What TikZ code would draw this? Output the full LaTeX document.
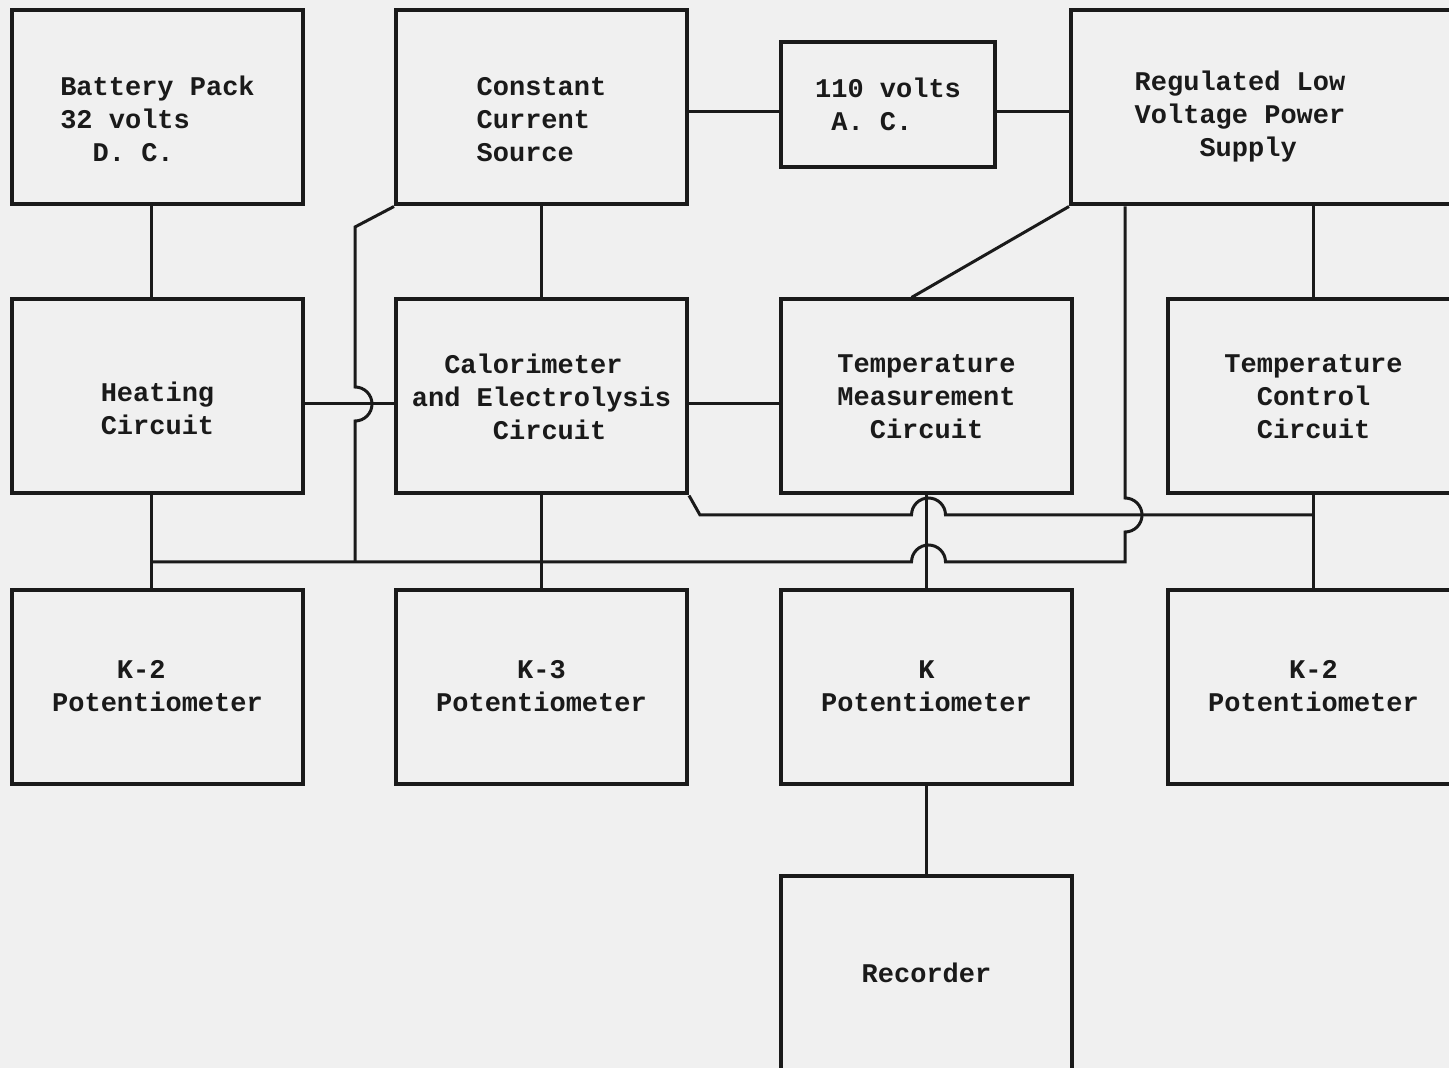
\documentclass[tikz,border=0pt]{standalone}
\usepackage{fontspec}
\setmonofont{Liberation Mono}
\usetikzlibrary{calc}
\definecolor{PaperGray}{HTML}{F0F0F0}
\definecolor{InkBlack}{HTML}{1A1A1A}
% taller first line, pushes typed text down in a box
\newcommand{\typedrop}{\rule{0pt}{21.5pt}}
\tikzset{
    % Node styles - typed boxes with sharp corners
    blockbox/.style={
        rectangle,
        draw=InkBlack,
        line width=2pt,
        minimum width=145.5pt,
        minimum height=97pt,
        align=left,
        text=InkBlack,
        font=\ttfamily\bfseries\fontsize{13.5}{16.5}\selectfont
    },
    smallbox/.style={
        blockbox,
        minimum width=107pt,
        minimum height=62.5pt
    },
    widebox/.style={
        blockbox,
        minimum width=199.5pt
    },
    boxtext/.style={
        align=left,
        text=InkBlack,
        font=\ttfamily\bfseries\fontsize{13.5}{16.5}\selectfont
    },
    % Wire styles
    wire/.style={
        draw=InkBlack,
        line width=1.5pt
    }
}

\begin{document}
\begin{tikzpicture}[x=0.5pt,y=-0.5pt]
    % Paper and page frame
    \useasboundingbox (0,0) rectangle (1449,1068);
    \fill[PaperGray] (0,0) rectangle (1449,1068);
    \clip (0,0) rectangle (1449,1068);

    % Top row - supplies
    \node[blockbox] (batt) at (157.5,107.5) {\typedrop Battery Pack\\32 volts\\~~D. C.};
    \node[blockbox] (ccs) at (541.5,107.5) {\typedrop Constant\\Current\\Source};
    \node[smallbox] (ac) at (888,104.5) {110 volts\\~A. C.};
    \node[widebox] (psu) at (1270.5,107.5) {};
    \node[boxtext] (psulabel) at (1240,117) {Regulated Low\\Voltage Power\\~~~~Supply};

    % Middle row - circuits
    \node[blockbox] (heat) at (157.5,396.5) {\typedrop Heating\\Circuit};
    \node[blockbox] (calor) at (541.5,396.5) {~~Calorimeter\\and Electrolysis\\~~~~~Circuit};
    \node[blockbox] (tmeas) at (926.5,396.5) {Temperature\\Measurement\\~~Circuit};
    \node[blockbox] (tctrl) at (1313.5,396.5) {Temperature\\~~Control\\~~Circuit};

    % Bottom row - potentiometers
    \node[blockbox] (kpotl) at (157.5,686.5) {~~~~K-2\\Potentiometer};
    \node[blockbox] (kthree) at (541.5,686.5) {~~~~~K-3\\Potentiometer};
    \node[blockbox] (kpot) at (926.5,686.5) {~~~~~~K\\Potentiometer};
    \node[blockbox] (kpotr) at (1313.5,686.5) {~~~~~K-2\\Potentiometer};
    \node[blockbox] (rec) at (926.5,972.5) {Recorder};

    % Rows and legs used by the wiring
    \coordinate (toprow) at (0,112);
    \coordinate (midrow) at (0,404);
    \coordinate (ctlrow) at (0,515);
    \coordinate (busW) at (151,562);
    \coordinate (busE) at (1125,562);

    % Straight links
    \draw[wire] (ccs.east |- toprow) -- (ac.west |- toprow);
    \draw[wire] (ac.east |- toprow) -- (psu.west |- toprow);
    \draw[wire] (batt.south -| busW) -- (heat.north -| busW);
    \draw[wire] (ccs.south) -- (calor.north);
    \draw[wire] (heat.east |- midrow) -- (calor.west |- midrow);
    \draw[wire] (calor.east |- midrow) -- (tmeas.west |- midrow);
    \draw[wire] (tctrl.north |- psu.south) -- (tctrl.north);
    \draw[wire] (psu.south west) -- ($(tmeas.north)+(-15,0)$);
    \draw[wire] (heat.south -| busW) -- (kpotl.north -| busW);
    \draw[wire] (calor.south) -- (kthree.north);
    \draw[wire] (tmeas.south) -- (kpot.north);
    \draw[wire] (tctrl.south) -- (kpotr.north);
    \draw[wire] (kpot.south) -- (rec.north);

    % Current feed, jumps over heating line
    \draw[wire] (ccs.south west) -- (355,227) -- (355,387)
        arc (90:-90:8.5pt) -- (355,562);

    % Control line, jumps over measurement lead
    \draw[wire] (calor.south east) -- (700,515) -- (911.5,515)
        arc (180:0:8.5pt) -- (tctrl.south |- ctlrow);

    % Common bus back to the power supply
    \draw[wire] (busE |- psu.south) -- (1125,498)
        arc (90:-90:8.5pt) -- (busE) -- (945.5,562)
        arc (0:180:8.5pt) -- (busW);
\end{tikzpicture}
\end{document}
